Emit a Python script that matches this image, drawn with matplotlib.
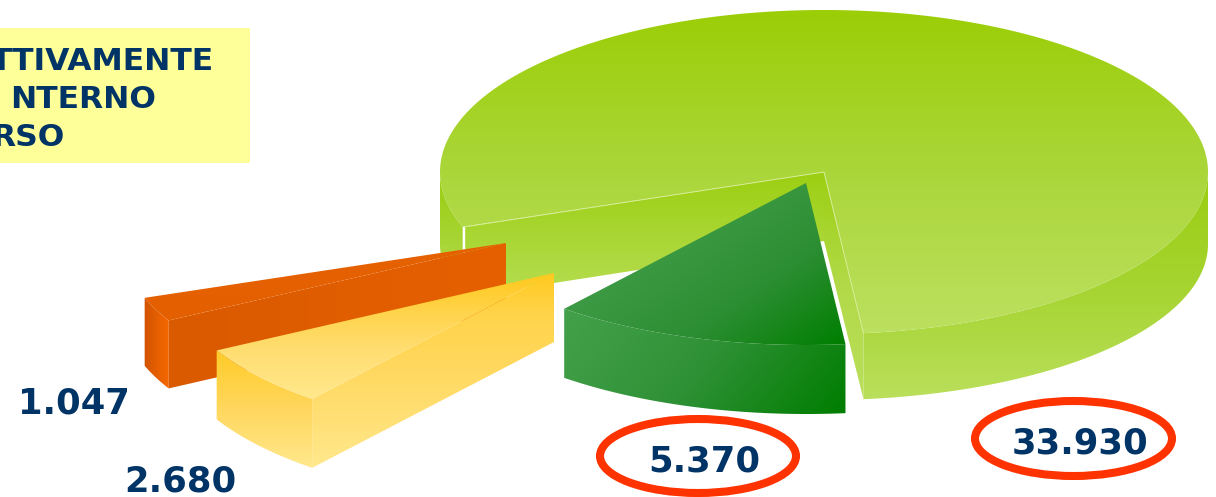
import numpy as np
import matplotlib
matplotlib.use("Agg")
import matplotlib.pyplot as plt
from matplotlib.path import Path
from matplotlib.patches import PathPatch, Ellipse, Rectangle
from matplotlib.colors import LinearSegmentedColormap

# data
value_labels = ["33.930", "5.370", "2.680", "1.047"]
values = [33930, 5370, 2680, 1047]
title_lines = ["TTIVAMENTE", "NTERNO", "RSO"]

NAVY = "#003366"
RX, RY = 384, 162
A0 = -5.9

fig = plt.figure(figsize=(12.16, 4.97), dpi=100, facecolor="white")
ax = fig.add_axes([0, 0, 1, 1])
ax.set_xlim(0, 1216)
ax.set_ylim(497, 0)
ax.axis("off")
ax.set_autoscale_on(False)


def arc(c, a1, a2, dy=0.0, shrink=0.0, n=160):
    a = np.radians(np.linspace(a1, a2, n))
    return np.column_stack([c[0] - RX * np.sin(a), c[1] + dy + (RY - shrink) * np.cos(a)])


def paint(verts, stops, direction=(0, 1), z=1):
    verts = np.asarray(verts, float)
    x0, y0 = verts.min(0)
    x1, y1 = verts.max(0)
    xs = np.arange(np.floor(x0), np.ceil(x1) + 1)
    ys = np.arange(np.floor(y0), np.ceil(y1) + 1)
    X, Y = np.meshgrid(xs, ys)
    d = np.array(direction, float)
    d /= np.hypot(*d)
    p = X * d[0] + Y * d[1]
    corners = verts @ d
    t = (p - corners.min()) / max(corners.max() - corners.min(), 1e-6)
    cmap = LinearSegmentedColormap.from_list("g", stops)
    im = ax.imshow(t, cmap=cmap, vmin=0, vmax=1, extent=(xs[0], xs[-1], ys[-1], ys[0]),
                   aspect="auto", zorder=z, interpolation="bilinear")
    codes = [Path.MOVETO] + [Path.LINETO] * (len(verts) - 1) + [Path.CLOSEPOLY]
    path = Path(np.vstack([verts, verts[0]]), codes)
    im.set_clip_path(PathPatch(path, transform=ax.transData))
    return im


def band(top, bottom):
    return np.vstack([top, bottom[::-1]])


total = sum(values)
sweep = [v / total * 360 for v in values]
a_green_end = A0 + sweep[1]
a_yellow_end = a_green_end + sweep[2]
a_orange_end = a_yellow_end + sweep[3]
a_main_end = a_orange_end + sweep[0]

# ---- main slice
c = (824, 172)
D = 72
S = 6
rim_stops = ["#9ACD10", "#A6D430", "#BADF5C"]
for a1, a2 in ((a_orange_end, 90), (270, a_main_end)):
    top = arc(c, a1, a2)
    bot = arc(c, a1, a2, dy=D, shrink=S)
    paint(band(top, bot), rim_stops, z=1)

p_left = arc(c, a_orange_end, a_orange_end, n=1)[0]
p_right = arc(c, a_main_end, a_main_end, n=1)[0]
pl2 = arc(c, a_orange_end, a_orange_end, dy=D, shrink=S, n=1)[0]
pr2 = arc(c, a_main_end, a_main_end, dy=D, shrink=S, n=1)[0]
tip_low = (c[0], c[1] + 69)
ax.plot([p_left[0] + 1, pl2[0] + 1], [p_left[1], pl2[1]], color="white", lw=2.0, zorder=2)
paint([(p_left[0] + 2.5, p_left[1]), c, tip_low, (pl2[0] + 2.5, pl2[1])],
      ["#9CCF12", "#B6DD52"], z=3)
paint([c, p_right, pr2, tip_low], ["#9CCF12", "#B2DA48", "#BADF5C"], z=4)

top_main = np.vstack([[c], arc(c, a_orange_end, a_main_end, n=400)])
paint(top_main, ["#9BCE06", "#ABD63A", "#BCE05F"], z=5)
ax.plot([p_left[0] + 2, c[0], p_right[0]], [p_left[1], c[1], p_right[1]],
        color="#D5EC93", lw=0.7, zorder=6)

# ---- orange slice
c_o = (506, 243)
Do = 68
top = arc(c_o, a_yellow_end, a_orange_end)
paint(band(top, top + [0, Do]), ["#D35400", "#F56800"], direction=(1, 0), z=7)
paint([c_o, top[0], top[0] + [0, Do], (c_o[0], c_o[1] + Do)],
      ["#DA5A00", "#E66000"], direction=(1, 0), z=8)
paint(np.vstack([[c_o], top]), ["#E66200", "#E45F00"], z=9)

# ---- yellow slice
c_y = (554, 273)
Dy = 69
top = arc(c_y, a_green_end, a_yellow_end)
paint([c_y, top[0], top[0] + [0, Dy], (c_y[0], c_y[1] + Dy)],
      [(0, "#FFCA1E"), (0.2, "#FFD349"), (0.5, "#FFD85F"), (1, "#FFE88C")], z=10)
paint(band(top, top + [0, Dy]), ["#FFCB28", "#FFD75E", "#FFE88C"], z=11)
paint(np.vstack([[c_y], top]),
      [(0, "#FFC91C"), (0.3, "#FFD34A"), (0.6, "#FFDD70"), (1, "#FFE88C")], z=12)

# ---- green slice
c_g = (806, 183)
Dg = 69
top = arc(c_g, A0, a_green_end)
paint(band(top, top + [0, Dg]), ["#44A14B", "#2F9136", "#007D00"], direction=(1, 0.8), z=13)
paint(np.vstack([[c_g], top]), ["#3D9A44", "#2C8E33", "#007E00"], direction=(0.7, 1), z=14)

# ---- title box (cropped at the left edge of the picture, as in the reference)
ax.add_patch(Rectangle((0, 28), 250, 135, facecolor="#FFFF99", edgecolor="none", zorder=15))
for line, (x, base) in zip(title_lines, ((214, 70), (156, 108), (64, 146))):
    ax.text(x, base, line, color=NAVY, fontsize=22.6, fontweight="bold",
            family="DejaVu Sans", ha="right", va="baseline", zorder=16)

# ---- value labels
pos = [(1080, 453), (704, 472), (180, 492), (74, 414)]
for lab, (x, y) in zip(value_labels, pos):
    ax.text(x, y, lab, color=NAVY, fontsize=25.5, fontweight="bold",
            family="DejaVu Sans", ha="center", va="baseline", zorder=20)

for (x, y, w, h) in ((698, 456, 196, 74), (1073.5, 438.5, 197, 75)):
    ax.add_patch(Ellipse((x, y), w, h, facecolor="none", edgecolor="#FF3300", lw=5.8, zorder=19))

fig.savefig("out.png", dpi=100, facecolor="white")
